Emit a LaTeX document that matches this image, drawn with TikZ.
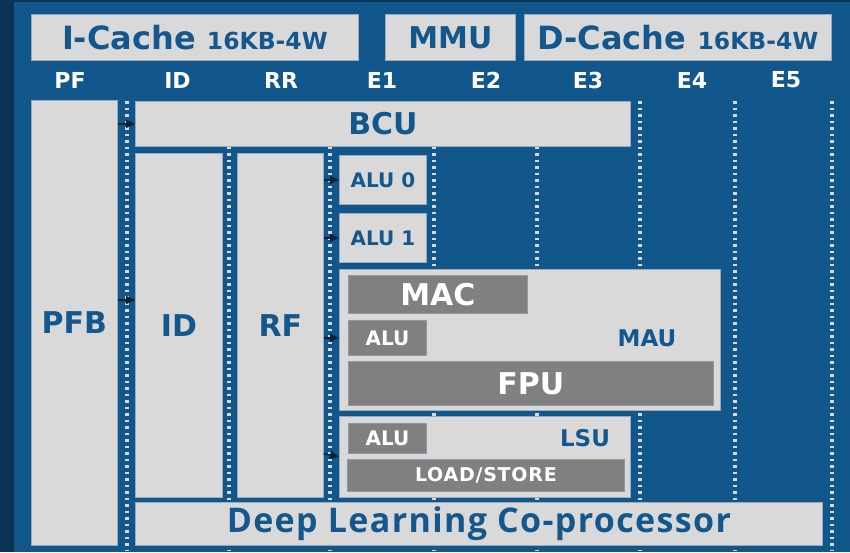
\documentclass[tikz,border=0pt]{standalone}
\usepackage{fontspec}
\setmainfont{DejaVu Sans}
\newfontfamily\opensansfont[LetterSpace=4]{Open Sans}
\usetikzlibrary{arrows.meta}
\definecolor{bgblue}{HTML}{12578C}
\definecolor{darkstrip}{HTML}{0B3353}
\definecolor{lgray}{HTML}{D9D9D9}
\definecolor{dgray}{HTML}{808080}
\definecolor{txtblue}{HTML}{14578C}
\definecolor{edgec}{HTML}{9AAABB}
\definecolor{arrowc}{HTML}{0A2238}
\newcommand{\fs}[1]{\fontsize{#1}{#1}\selectfont}
\begin{document}
\begin{tikzpicture}[x=1pt,y=-1pt,
  lbox/.style={draw=edgec, line width=0.8pt, fill=lgray, inner sep=0pt, anchor=north west, text=txtblue, font=\bfseries},
  dbox/.style={draw=edgec!60!gray, line width=0.8pt, fill=dgray, inner sep=0pt, anchor=north west, text=white, font=\bfseries},
  stagelbl/.style={text=white, font=\bfseries\fs{22}, inner sep=0pt},
  bluelbl/.style={text=txtblue, font=\bfseries, inner sep=0pt},
  dotline/.style={draw=lgray, line width=3.5pt, dash pattern=on 2.6pt off 3.9pt},
  arr/.style={draw=arrowc, line width=1.5pt, -{Triangle[length=9pt,width=8pt]}}]
\useasboundingbox (0,0) rectangle (850,552);
% background
\fill[darkstrip] (0,0) rectangle (850,552);
\fill[bgblue] (14,2) rectangle (850,552);

% dotted stage separators
\foreach \xx/\nm in {127/da,229/db,330/dc,434/dd,537/de,640/df,735/dg,832/dh}{
  \coordinate (\nm t) at (\xx,101);
  \coordinate (\nm b) at (\xx,550);
  \draw[dotline] (\nm t) -- (\nm b);
}

% top caches
\node[lbox, minimum width=327pt, minimum height=46pt] (icache) at (31,14) {\fs{32}I-Cache \fs{23.5}16KB-4W};
\node[lbox, minimum width=130pt, minimum height=46pt] (mmu) at (385,14) {\fs{30}MMU};
\node[lbox, minimum width=307pt, minimum height=46pt] (dcache) at (524,14) {\fs{32}D-Cache \fs{23.5}16KB-4W};

% stage labels
\node[stagelbl] (sPF) at (70,80) {PF};
\node[stagelbl] (sID) at (177.5,80) {ID};
\node[stagelbl] (sRR) at (281,80) {RR};
\node[stagelbl] (sE1) at (382,80) {E1};
\node[stagelbl] (sE2) at (486,80) {E2};
\node[stagelbl] (sE3) at (588,80) {E3};
\node[stagelbl] (sE4) at (692,80) {E4};
\node[stagelbl] (sE5) at (786,80) {E5};

% pipeline blocks
\node[lbox, minimum width=86pt, minimum height=445pt] (pfb) at (31,100) {\fs{30}PFB};
\node[lbox, minimum width=495pt, minimum height=45pt] (bcu) at (135,101) {\fs{30}BCU};
\node[lbox, minimum width=87pt, minimum height=344pt] (id) at (135,153) {\fs{30}ID};
\node[lbox, minimum width=86pt, minimum height=344pt] (rf) at (237,153) {\fs{30}RF};
\node[lbox, minimum width=87pt, minimum height=49pt] (alu0) at (339,155) {\fs{20}ALU 0};
\node[lbox, minimum width=87pt, minimum height=49pt] (alu1) at (339,213) {\fs{20}ALU 1};

% MAU
\node[lbox, minimum width=381pt, minimum height=141pt] (mau) at (339,269) {};
\node[dbox, minimum width=179pt, minimum height=38pt] (mac) at (348,275) {\fs{30}MAC};
\node[dbox, minimum width=78pt, minimum height=35pt] (maualu) at (348,320) {\fs{20}ALU};
\node[dbox, minimum width=365pt, minimum height=44pt] (fpu) at (348,361) {\fs{30}FPU};
\node[bluelbl, font=\bfseries\fs{23}] (maulbl) at (647,338) {MAU};

% LSU
\node[lbox, minimum width=291pt, minimum height=81pt] (lsu) at (339,416) {};
\node[dbox, minimum width=78pt, minimum height=30pt] (lsualu) at (348,423) {\fs{20}ALU};
\node[dbox, minimum width=277pt, minimum height=32pt] (ldst) at (347,459) {\fs{19}\addfontfeature{LetterSpace=4}LOAD/STORE};
\node[bluelbl, font=\bfseries\fs{23}] (lsulbl) at (585,438) {LSU};

% coprocessor
\node[lbox, minimum width=687pt, minimum height=43pt] (dlcp) at (135,502) {\opensansfont\bfseries\fs{34}Deep Learning Co-processor};

% arrows
\draw[arr] (pfb.east |- bcu.west) -- (bcu.west);
\draw[arr] ([yshift=-200pt]pfb.north east) -- (id.west |- 0,300);
\draw[arr] (rf.east |- alu0.west) -- (alu0.west);
\draw[arr] (rf.east |- alu1.west) -- (alu1.west);
\draw[arr] (rf.east |- maualu.west) -- (mau.west |- maualu.west);
\draw[arr] (rf.east |- lsualu.south) -- ([yshift=-3pt]lsu.west |- lsualu.south);
\end{tikzpicture}
\end{document}
